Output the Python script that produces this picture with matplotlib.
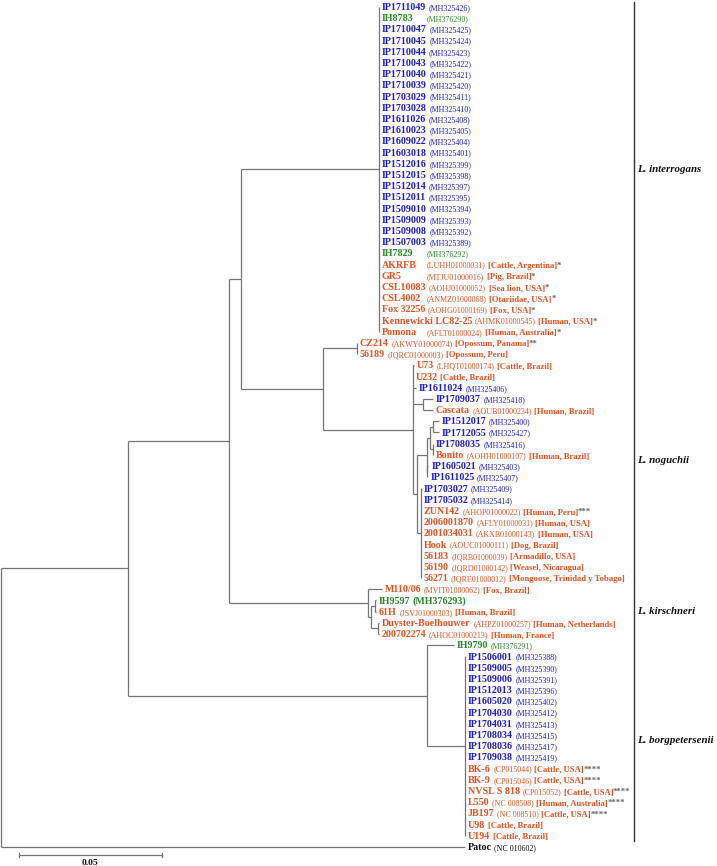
import matplotlib
matplotlib.use("Agg")
import matplotlib.pyplot as plt
from matplotlib.transforms import IdentityTransform

plt.rcParams['font.family'] = ['Liberation Serif', 'DejaVu Serif']

# tree (MEGA style, branch lengths in substitutions/site), leaves top to bottom
tree = (
    "((((("
    "IP1711049:0,IH8783:0,IP1710047:0,IP1710045:0,IP1710044:0,IP1710043:0,"
    "IP1710040:0,IP1710039:0,IP1703029:0,IP1703028:0,IP1611026:0,IP1610023:0,"
    "IP1609022:0,IP1603018:0,IP1512016:0,IP1512015:0,IP1512014:0,IP1512011:0,"
    "IP1509010:0,IP1509009:0,IP1509008:0,IP1507003:0,IH7829:0,AKRFB:0,GR5:0,"
    "CSL10083:0,CSL4002:0,Fox 32256:0,Kennewicki LC82-25:0,Pomona:0):0.04845,"
    "((CZ214:0,56189:0):0.01194,"
    "(U73:0.00035,U232:0,IP1611024:0.0009,"
    "(IP1709037:0.0035,Cascata:0.0035):0.0035,"
    "((((IP1512017:0.0019,IP1712055:0.0019):0.0011,(IP1708035:0,Bonito:0):0.0009):0.0012,"
    "(IP1605021:0.0004,IP1611025:0):0.0002):0.0035,"
    "(IP1703027:0,IP1705032:0,ZUN142:0,2006001870:0,2001034031:0,Hook:0,"
    "56183:0,56190:0,56271:0):0.0014):0.0013):0.0316):0.02879):0.00432,"
    "(M110/06:0.00481,((IH9597:0.00035,61H:0.00035):0.00151,"
    "(Duyster-Boelhouwer:0.00025,200702274:0.00025):0.00267):0.00084):0.04902"
    "):0.03536,"
    "(IH9790:0.00948,(IP1506001:0,IP1509005:0,IP1509006:0,IP1512013:0,IP1605020:0,"
    "IP1704030:0,IP1704031:0,IP1708034:0,IP1708036:0,IP1709038:0,BK-6:0,BK-9:0,"
    "NVSL S 818:0,L550:0,JB197:0,U98:0,U194:0):0.01334):0.10499"
    "):0.04459,Patoc:0.16292);"
)

leaf_names = [
    "IP1711049", "IH8783", "IP1710047", "IP1710045", "IP1710044", "IP1710043",
    "IP1710040", "IP1710039", "IP1703029", "IP1703028", "IP1611026", "IP1610023",
    "IP1609022", "IP1603018", "IP1512016", "IP1512015", "IP1512014", "IP1512011",
    "IP1509010", "IP1509009", "IP1509008", "IP1507003", "IH7829", "AKRFB", "GR5",
    "CSL10083", "CSL4002", "Fox 32256", "Kennewicki LC82-25", "Pomona",
    "CZ214", "56189", "U73", "U232", "IP1611024", "IP1709037", "Cascata",
    "IP1512017", "IP1712055", "IP1708035", "Bonito", "IP1605021", "IP1611025",
    "IP1703027", "IP1705032", "ZUN142", "2006001870", "2001034031", "Hook",
    "56183", "56190", "56271",
    "M110/06", "IH9597", "61H", "Duyster-Boelhouwer", "200702274",
    "IH9790", "IP1506001", "IP1509005", "IP1509006", "IP1512013", "IP1605020",
    "IP1704030", "IP1704031", "IP1708034", "IP1708036", "IP1709038", "BK-6",
    "BK-9", "NVSL S 818", "L550", "JB197", "U98", "U194", "Patoc",
]
leaf_acc = [
    "MH325426", "MH376290", "MH325425", "MH325424", "MH325423", "MH325422",
    "MH325421", "MH325420", "MH325411", "MH325410", "MH325408", "MH325405",
    "MH325404", "MH325401", "MH325399", "MH325398", "MH325397", "MH325395",
    "MH325394", "MH325393", "MH325392", "MH325389", "MH376292", "LUHH01000031",
    "MTJU01000016", "AOHJ01000052", "ANMZ01000068", "AOHG01000169",
    "AHMK01000545", "AFLT01000024",
    "AKWY01000074", "JQRC01000003", "LHQT01000174", "", "MH325406", "MH325418",
    "AOUB01000234", "MH325400", "MH325427", "MH325416", "AOHH01000107",
    "MH325403", "MH325407", "MH325409", "MH325414", "AHOP01000022",
    "AFLY01000031", "AKXB01000143", "AOUC01000111", "JQRB01000039",
    "JQRD01000142", "JQRE01000012",
    "MVIT01000062", "MH376293", "JSVJ01000303", "AHPZ01000257", "AHOC01000213",
    "MH376291", "MH325388", "MH325390", "MH325391", "MH325396", "MH325402",
    "MH325412", "MH325413", "MH325415", "MH325417", "MH325419", "CP015044",
    "CP015046", "CP015052", "NC 008508", "NC 008510", "", "", "NC 010602",
]
leaf_host = (
    [""] * 23 +
    ["Cattle, Argentina", "Pig, Brazil", "Sea lion, USA", "Otariidae, USA",
     "Fox, USA", "Human, USA", "Human, Australia",
     "Opossum, Panama", "Opossum, Peru", "Cattle, Brazil", "Cattle, Brazil", "", "",
     "Human, Brazil", "", "", "", "Human, Brazil", "", "", "", "", "Human, Peru",
     "Human, USA", "Human, USA", "Dog, Brazil", "Armadillo, USA",
     "Weasel, Nicaragua", "Mongoose, Trinidad y Tobago",
     "Fox, Brazil", "", "Human, Brazil", "Human, Netherlands", "Human, France",
     "", "", "", "", "", "", "", "", "", "", "",
     "Cattle, USA", "Cattle, USA", "Cattle, USA", "Human, Australia",
     "Cattle, USA", "Cattle, Brazil", "Cattle, Brazil", ""]
)
leaf_mark = {
    "AKRFB": "*", "GR5": "*", "CSL10083": "*", "CSL4002": "*", "Fox 32256": "*",
    "Kennewicki LC82-25": "*", "Pomona": "*", "CZ214": "**", "ZUN142": "***",
    "BK-6": "****", "BK-9": "****", "NVSL S 818": "****", "L550": "****",
    "JB197": "****",
}
# b = this study (blue), g = IH strains (green), o = reference genomes, k = outgroup
leaf_group = (
    "bgbbbbbbbbbbbbbbbbbbbbgooooooo"
    "oooobbobbbobbbbooooooo"
    "ogooo"
    "gbbbbbbbbbbooooooo"
    "k"
)

clades = [
    ("L. interrogans", "IP1711049", "Pomona"),
    ("L. noguchii", "CZ214", "56271"),
    ("L. kirschneri", "M110/06", "200702274"),
    ("L. borgpetersenii", "IH9790", "U194"),
]
scale_len = 0.05

colors = {"b": "#1c1cd6", "g": "#2a8a2a", "o": "#e8501f", "k": "#111111"}
line_col = "#747474"


def parse_newick(s):
    pos = 0

    def node():
        nonlocal pos
        kids = []
        if s[pos] == "(":
            pos += 1
            while True:
                kids.append(node())
                if s[pos] == ",":
                    pos += 1
                    continue
                pos += 1
                break
        start = pos
        while s[pos] not in ",():;":
            pos += 1
        name = s[start:pos]
        bl = 0.0
        if s[pos] == ":":
            pos += 1
            start = pos
            while s[pos] not in ",();":
                pos += 1
            bl = float(s[start:pos])
        return {"name": name, "bl": bl, "kids": kids}

    return node()


root = parse_newick(tree)
order = {n: i for i, n in enumerate(leaf_names)}


def layout(nd, x0):
    nd["x"] = x0 + nd["bl"]
    if not nd["kids"]:
        nd["y"] = order[nd["name"]]
        return
    for k in nd["kids"]:
        layout(k, nd["x"])
    nd["y"] = (nd["kids"][0]["y"] + nd["kids"][-1]["y"]) / 2


layout(root, 0.0)

fig = plt.figure(figsize=(7.17, 8.66), dpi=100)
ax = fig.add_axes([0, 0, 1, 1])
ax.set_xlim(-0.00035, 0.25141)
ax.set_ylim(76.72, -0.6)
ax.axis("off")

tips = {}


def draw(nd):
    if not nd["kids"]:
        tips[nd["name"]] = (nd["x"], nd["y"])
        return
    ys = [k["y"] for k in nd["kids"]]
    ax.plot([nd["x"], nd["x"]], [min(ys), max(ys)], color=line_col, lw=0.9,
            solid_capstyle="butt")
    for k in nd["kids"]:
        ax.plot([nd["x"], k["x"]], [k["y"], k["y"]], color=line_col, lw=0.9,
                solid_capstyle="butt")
        draw(k)


draw(root)

renderer = fig.canvas.get_renderer()
tabbed = set(leaf_names[:30])
bold_acc = {"IH9597"}


def put(x, y, s, size, weight, color):
    t = ax.text(x, y, s, transform=IdentityTransform(), fontsize=size,
                fontweight=weight, color=color, ha="left", va="baseline")
    return t.get_window_extent(renderer).x1


for i, name in enumerate(leaf_names):
    x, y = tips[name]
    xd, yd = ax.transData.transform((x, y))
    xd += 3
    yd -= 3.3
    col = colors[leaf_group[i]]
    cur = put(xd, yd, name, 7.2, "bold", col)
    if leaf_acc[i]:
        ax_x = cur + 2.5
        if name in tabbed:
            ax_x = max(ax_x, xd + 45)
        if name in bold_acc:
            cur = put(ax_x, yd, "(" + leaf_acc[i] + ")", 7.2, "bold", col)
        else:
            cur = put(ax_x, yd, "(" + leaf_acc[i] + ")", 5.8, "normal", col)
    if leaf_host[i]:
        cur = put(cur + 2.5, yd, "[" + leaf_host[i] + "]", 6.2, "bold", col)
    if name in leaf_mark:
        put(cur - 0.5, yd, leaf_mark[name], 6.3, "bold", "#666666")

# species brackets
bracket_x = 0.2223
for label, first, last in clades:
    y0 = order[first] - 0.45
    y1 = order[last] + 0.45
    ax.plot([bracket_x, bracket_x], [y0, y1], color="#333333", lw=1.0)
    ax.text(bracket_x + 0.0011, (order[first] + order[last]) / 2, label,
            fontsize=7.8, fontweight="bold", fontstyle="italic",
            ha="left", va="center", color="#111111")

# scale bar
sb_x = 0.0064
sb_y = 75.74
ax.plot([sb_x, sb_x + scale_len], [sb_y, sb_y], color=line_col, lw=0.9)
for xe in (sb_x, sb_x + scale_len):
    ax.plot([xe, xe], [sb_y - 0.18, sb_y + 0.18], color=line_col, lw=0.9)
ax.text(sb_x + scale_len / 2, sb_y + 0.35, f"{scale_len:.2f}", fontsize=6.8,
        fontweight="bold", ha="center", va="top", color="#111111")

fig.savefig("out.png", dpi=100)
